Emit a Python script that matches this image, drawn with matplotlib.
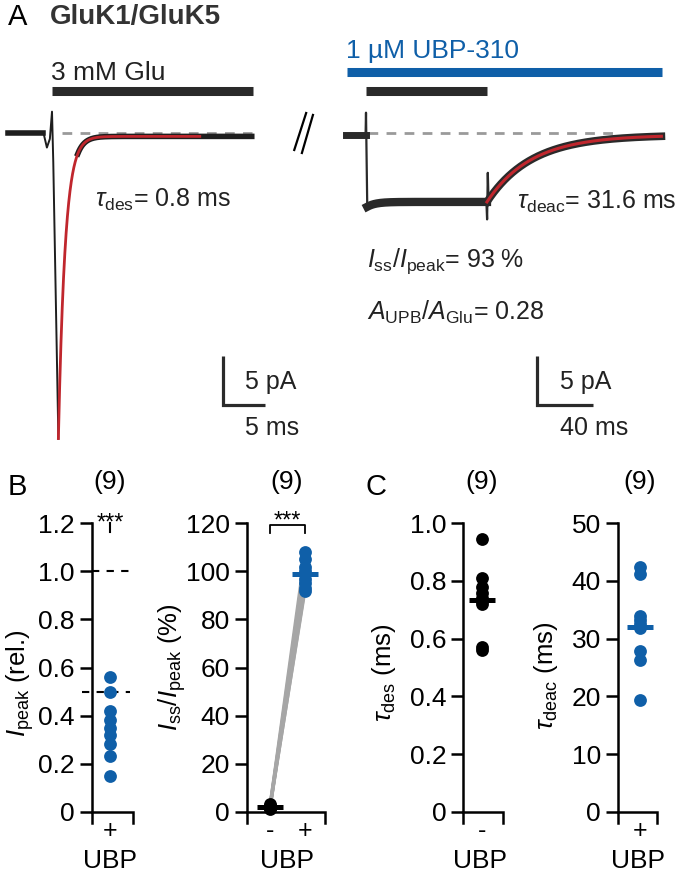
import numpy as np
import matplotlib
matplotlib.use('Agg')
import matplotlib.pyplot as plt

plt.rcParams['font.family'] = ['Liberation Sans', 'DejaVu Sans']
plt.rcParams['mathtext.fontset'] = 'custom'
plt.rcParams['mathtext.rm'] = 'Liberation Sans'
plt.rcParams['mathtext.it'] = 'Liberation Sans:italic'
plt.rcParams['mathtext.bf'] = 'Liberation Sans:bold'

glu_peak = -31.5      # pA
glu_ss = -0.35
glu_t_peak = 0.75     # ms
tau_des = 0.8         # ms
glu_end = 23.5
glu_fit_end = 17.4
glu_pre_t = [-5.2, -1.0, -0.6, -0.25, 0.0, 0.15, 0.75]
glu_pre_i = [0.0, 0.0, -1.5, -0.6, 2.2, -3.0, -31.5]
glu_bar = [0.0, 23.7]

ubp_peak = -7.4
ubp_ss = -6.9
ubp_t_peak = 0.9
ubp_t_off = 86.4
tau_deac = 31.6
ubp_end = 211.0
ubp_pre_t = [-14.3, -0.3, 0.0, 0.3, 0.9]
ubp_pre_i = [0.0, 0.0, 2.3, -1.0, -7.4]
ubp_off_t = [86.0, 86.5, 87.0, 87.5]
ubp_off_i = [-6.9, -8.7, -3.9, -6.6]
ubp_glu_bar = [0.0, 86.4]
ubp_drug_bar = [-13.6, 211.4]

# --- panels B and C: single cells (n = 9) ---
ipeak_rel_ubp = [0.56, 0.50, 0.42, 0.38, 0.35, 0.32, 0.28, 0.23, 0.15]
iss_ctrl = [2.5, 2.0, 1.5, 3.0, 1.0, 2.0, 2.5, 1.5, 2.0]
iss_ubp = [108, 105, 102, 100, 99, 97, 95, 93, 92]
tau_des_vals = [0.945, 0.81, 0.78, 0.76, 0.74, 0.73, 0.72, 0.57, 0.56]
tau_deac_vals = [42.4, 41.2, 34.0, 33.2, 32.6, 31.8, 27.8, 26.3, 19.3]
n_cells = 9

blue = '#0f5fa8'
red = '#c0262d'
trace_col = '#1e1e1e'
W, H = 677, 876

fig = plt.figure(figsize=(W / 100, H / 100), dpi=100)


def fx(x):
    return x / W


def fy(y):
    return 1 - y / H


def trace_axes(x0, sx, y0, sy):
    ax = fig.add_axes([0, 0, 1, 1])
    ax.set_xlim(-x0 / sx, (W - x0) / sx)
    ax.set_ylim((y0 - H) / sy, y0 / sy)
    ax.axis('off')
    ax.patch.set_alpha(0)
    return ax


def scalebar(ax, t, i, dt, di):
    ax.plot([t, t, t + dt], [i + di, i, i], color='#2a2a2a', lw=2.3,
            solid_joinstyle='miter', solid_capstyle='butt')


# ---- A, left trace ----
axl = trace_axes(52, 8.5, 133, 9.7)
td = np.linspace(glu_t_peak, glu_end, 600)
glu_decay = glu_ss + (glu_peak - glu_ss) * np.exp(-(td - glu_t_peak) / tau_des)
axl.plot([1.2, glu_end], [0, 0], color='#9a9a9a', lw=2, dashes=(3.5, 3), zorder=1)
axl.plot(glu_pre_t, glu_pre_i, color=trace_col, lw=1.4, zorder=2)
axl.plot(glu_pre_t[:2], glu_pre_i[:2], color=trace_col, lw=4, zorder=2)
axl.plot(td[td > 3], glu_decay[td > 3], color=trace_col, lw=4, zorder=2)
tf = td[td <= glu_fit_end]
axl.plot(tf, glu_decay[td <= glu_fit_end], color=red, lw=2, zorder=3)
axl.plot(glu_bar, [4.3, 4.3], color='#2a2a2a', lw=6.5, solid_capstyle='butt')
scalebar(axl, 20.1, -28.0, 5, 5)

# ---- A, right trace ----
axr = trace_axes(366, 1.4, 135, 9.7)
ts = np.linspace(ubp_t_peak, ubp_t_off, 300)
ubp_steady = ubp_ss + (ubp_peak - ubp_ss) * np.exp(-(ts - ubp_t_peak) / 6)
tdc = np.linspace(ubp_t_off, ubp_end, 500)
ubp_decay = ubp_ss * np.exp(-(tdc - ubp_t_off) / tau_deac)
axr.plot([1.4, 181], [0.2, 0.2], color='#9a9a9a', lw=2, dashes=(3.5, 3), zorder=1)
axr.plot(ubp_pre_t, ubp_pre_i, color='#2a2a2a', lw=1.6, zorder=2)
axr.plot(ubp_pre_t[:2], ubp_pre_i[:2], color='#2a2a2a', lw=5, zorder=2)
axr.plot(ts, ubp_steady, color='#2a2a2a', lw=6, zorder=2)
axr.plot(ubp_off_t, ubp_off_i, color='#2a2a2a', lw=1.6, zorder=2)
axr.plot(tdc, ubp_decay, color='#2a2a2a', lw=5.5, zorder=2)
axr.plot(tdc, ubp_decay, color=red, lw=2.2, zorder=3)
axr.plot(ubp_glu_bar, [4.5, 4.5], color='#2a2a2a', lw=6.5, solid_capstyle='butt')
axr.plot(ubp_drug_bar, [6.45, 6.45], color=blue, lw=6.5, solid_capstyle='butt')
scalebar(axr, 122.1, -27.8, 40, 5)

# break mark
axl.plot([29.9, 28.5], [2.06, -1.75], color='k', lw=1.6)
axl.plot([30.7, 29.4], [1.86, -2.06], color='k', lw=1.6)

fs = 18
fig.text(fx(8), fy(17), 'A', fontsize=21, va='center', ha='left')
fig.text(fx(50), fy(17), 'GluK1/GluK5', fontsize=20, fontweight='bold',
         color='#333333', va='center', ha='left')
fig.text(fx(51), fy(73), '3 mM Glu', fontsize=19, va='center', ha='left', color='#222222')
fig.text(fx(346), fy(51), '1 \u00b5M UBP-310', fontsize=19, va='center', ha='left', color=blue)
fig.text(fx(95), fy(207), r'$\tau_{\mathrm{des}}$= %.1f ms' % tau_des, fontsize=fs,
         va='baseline', ha='left', color='#222222')
fig.text(fx(517), fy(209), r'$\tau_{\mathrm{deac}}$= %.1f ms' % tau_deac, fontsize=fs,
         va='baseline', ha='left', color='#222222')
fig.text(fx(367), fy(267), r'$I_{\mathrm{ss}}$/$I_{\mathrm{peak}}$= %d %%' % round(100 * ubp_ss / ubp_peak),
         fontsize=fs, va='baseline', ha='left', color='#222222')
fig.text(fx(367), fy(320), r'$A_{\mathrm{UPB}}$/$A_{\mathrm{Glu}}$= 0.28', fontsize=fs,
         va='baseline', ha='left', color='#222222')
for x0, lab in [(245, '5 ms'), (560, '40 ms')]:
    fig.text(fx(x0), fy(389), '5 pA', fontsize=fs, va='baseline', ha='left', color='#222222')
    fig.text(fx(x0), fy(435), lab, fontsize=fs, va='baseline', ha='left', color='#222222')


# ---- B and C: dot plots ----
def dot_axes(spine_x, end_x, cat0_x, ymax, yticks, ylabels):
    top, zero, ext = 523.3, 811.7, 11.0
    unit = 35.0
    ax = fig.add_axes([fx(spine_x), fy(zero + ext), (end_x - spine_x) / W,
                       (zero + ext - top) / H])
    ax.patch.set_alpha(0)
    x0, x1 = (spine_x - cat0_x) / unit, (end_x - cat0_x) / unit
    ax.set_xlim(x0, x1)
    ymin = -ymax * ext / (zero - top)
    ax.set_ylim(ymin, ymax)
    for s in ['top', 'right', 'bottom']:
        ax.spines[s].set_visible(False)
    ax.spines['left'].set_linewidth(1.8)
    ax.plot([x0, x1, x1], [0, 0, ymin], color='k', lw=1.8, clip_on=False,
            solid_joinstyle='miter', zorder=1)
    ax.set_yticks(yticks)
    ax.set_yticklabels(ylabels)
    ax.tick_params(axis='y', direction='out', length=8.6, width=1.8,
                   labelsize=19, pad=3.5)
    ax.tick_params(axis='x', length=0, labelsize=18, pad=-3)
    return ax


dot_s = 85

# B left
ax1 = dot_axes(91.7, 133.3, 110, 1.2, [0, 0.2, 0.4, 0.6, 0.8, 1.0, 1.2],
               ['0', '0.2', '0.4', '0.6', '0.8', '1.0', '1.2'])
ax1.scatter(np.zeros(len(ipeak_rel_ubp)), ipeak_rel_ubp, s=dot_s, color=blue,
            zorder=3, clip_on=False, linewidths=0)
ax1.plot([ax1.get_xlim()[0], 0.57], [1.0, 1.0], color='k', lw=1.5, dashes=(3.5, 3.5))
ax1.plot([-0.8, 0.57], [0.5, 0.5], color='k', lw=1.5, dashes=(3.5, 3.5), clip_on=False)
ax1.plot([0, 0], [1.165, 1.2], color='k', lw=1.5, clip_on=False)
ax1.set_xticks([0])
ax1.set_xticklabels(['+'])

# B right
ax2 = dot_axes(246.7, 325.0, 270, 120, [0, 20, 40, 60, 80, 100, 120],
               ['0', '20', '40', '60', '80', '100', '120'])
for a, b in zip(iss_ctrl, iss_ubp):
    ax2.plot([0, 1], [a, b], color='#a6a6a6', lw=2.2, zorder=2)
ax2.scatter(np.zeros(n_cells), iss_ctrl, s=dot_s, color='k', zorder=3, linewidths=0)
ax2.scatter(np.ones(n_cells), iss_ubp, s=dot_s, color=blue, zorder=3, linewidths=0,
            clip_on=False)
ax2.plot([-0.38, 0.38], [np.mean(iss_ctrl)] * 2, color='k', lw=3.6, zorder=4,
         solid_capstyle='butt')
ax2.plot([0.62, 1.38], [np.mean(iss_ubp)] * 2, color=blue, lw=3.6, zorder=4,
         solid_capstyle='butt', clip_on=False)
ax2.plot([0, 0, 1, 1], [115.8, 119.2, 119.2, 115.8], color='k', lw=1.3, clip_on=False)
ax2.set_xticks([0, 1])
ax2.set_xticklabels(['-', '+'])

# C left
ax3 = dot_axes(463.3, 503.3, 482, 1.0, [0, 0.2, 0.4, 0.6, 0.8, 1.0],
               ['0', '0.2', '0.4', '0.6', '0.8', '1.0'])
ax3.scatter(np.zeros(n_cells), tau_des_vals, s=dot_s, color='k', zorder=3, linewidths=0)
ax3.plot([-0.38, 0.38], [np.mean(tau_des_vals)] * 2, color='k', lw=3.6, zorder=4,
         solid_capstyle='butt')
ax3.set_xticks([0])
ax3.set_xticklabels(['-'])

# C right
ax4 = dot_axes(617.7, 656.7, 640, 50, [0, 10, 20, 30, 40, 50],
               ['0', '10', '20', '30', '40', '50'])
ax4.scatter(np.zeros(n_cells), tau_deac_vals, s=dot_s, color=blue, zorder=3, linewidths=0)
ax4.plot([-0.38, 0.38], [np.mean(tau_deac_vals)] * 2, color=blue, lw=3.6, zorder=4,
         solid_capstyle='butt', clip_on=False)
ax4.set_xticks([0])
ax4.set_xticklabels(['+'])

# labels
fig.text(fx(8), fy(495), 'B', fontsize=21, va='baseline', ha='left')
fig.text(fx(366), fy(495), 'C', fontsize=21, va='baseline', ha='left')
for xc in [110, 287, 482, 640]:
    fig.text(fx(xc), fy(482), '(%d)' % n_cells, fontsize=19, va='center', ha='center')
for xc in [110, 287, 480, 638]:
    fig.text(fx(xc), fy(868), 'UBP', fontsize=19, va='baseline', ha='center')
fig.text(fx(110), fy(530), '***', fontsize=17, va='baseline', ha='center')
fig.text(fx(287), fy(528), '***', fontsize=17, va='baseline', ha='center')

fig.text(fx(20), fy(683), r'$I_{\mathrm{peak}}$ (rel.)', fontsize=18.5, rotation=90,
         va='center', ha='center')
fig.text(fx(172), fy(667), r'$I_{\mathrm{ss}}/I_{\mathrm{peak}}$ (%)', fontsize=18.5,
         rotation=90, va='center', ha='center')
fig.text(fx(384), fy(673), r'$\tau_{\mathrm{des}}$ (ms)', fontsize=18.5, rotation=90,
         va='center', ha='center')
fig.text(fx(546), fy(676), r'$\tau_{\mathrm{deac}}$ (ms)', fontsize=18.5, rotation=90,
         va='center', ha='center')

fig.savefig('out.png', dpi=100)
